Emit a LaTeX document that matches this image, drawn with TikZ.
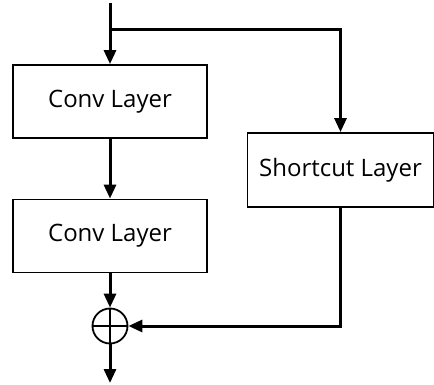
\documentclass[tikz,border=0pt]{standalone}
\usepackage{fontspec}
\setmainfont{Open Sans}
\usetikzlibrary{arrows.meta}
\begin{document}
\begin{tikzpicture}[x=1pt,y=-1pt,
  layer/.style={draw,line width=1.8pt,minimum width=194pt,minimum height=73pt,inner sep=0pt,font=\fontsize{24}{28}\selectfont},
  conn/.style={line width=3pt,-{Triangle[length=14pt,width=12pt]}},
  plain/.style={line width=3pt}]
\useasboundingbox (0,0) rectangle (434,385);
\node[layer] (c1) at (110,101.5) {Conv Layer};
\node[layer] (c2) at (110,236) {Conv Layer};
\node[layer,minimum width=186pt,minimum height=74pt] (s) at (340.5,170) {Shortcut Layer};
\node[draw,circle,line width=1.8pt,minimum size=35pt,inner sep=0pt] (p) at (110,326) {};
\draw[line width=1.8pt] (p.north) -- (p.south) (p.west) -- (p.east);
\coordinate (top) at (110,3);
\coordinate (br) at (110,30);
\coordinate (out) at (110,383);
\draw[plain] (top) -- (br);
\draw[conn] (br) -- (c1.north);
\draw[conn] (br) -| (s.north);
\draw[conn] (c1.south) -- (c2.north);
\draw[conn] (c2.south) -- (p.north);
\draw[conn] (s.south) |- (p.east);
\draw[conn] (p.south) -- (out);
\end{tikzpicture}
\end{document}
